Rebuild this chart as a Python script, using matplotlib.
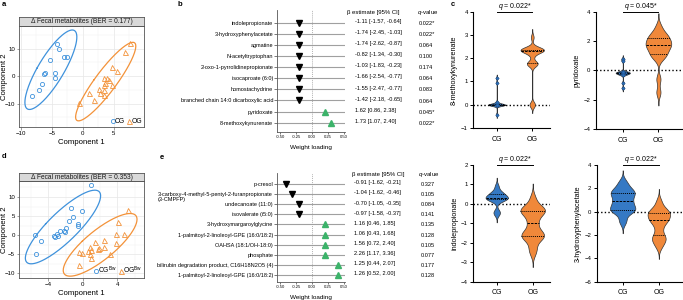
import numpy as np
import matplotlib
matplotlib.use('Agg')
import matplotlib.pyplot as plt
from matplotlib.transforms import blended_transform_factory as btf
from matplotlib.lines import Line2D

plt.rcParams['font.family'] = ['Liberation Sans', 'DejaVu Sans']
plt.rcParams['mathtext.fontset'] = 'custom'
plt.rcParams['mathtext.rm'] = 'Liberation Sans'
plt.rcParams['mathtext.it'] = 'Liberation Sans:italic'

# ---------------- data ----------------
# panel a (component scores)
a_cg_x = [-4.1, -3.8, -5.3, -3.0, -2.5, -6.1, -6.2, -4.5, -4.5, -6.6, -7.0, -8.2]
a_cg_y = [11.5, 9.8, 5.8, 6.8, 6.8, 1.2, 0.7, 1.2, -0.8, -2.9, -5.1, -7.3]
a_og_x = [7.7, 6.8, 4.8, 5.6, 3.5, 3.9, 4.3, 3.6, 4.7, 3.5, 2.6, 3.5, 2.8, 3.5, 1.0, 1.9, -0.6]
a_og_y = [11.9, 8.8, 3.4, 1.8, -0.8, -0.8, -1.5, -2.4, -3.3, -3.3, -4.8, -5.1, -6.3, -6.9, -6.3, -8.7, -9.7]
a_title = 'Δ Fecal metabolites (BER = 0.177)'

# panel d
d_cg_x = [0.97, -0.08, -1.4, -1.1, -1.6, -0.6, -0.5, -2.0, -2.2, -2.1, -2.6, -2.95, -2.9, -3.3, -3.2, -5.5, -4.9, -5.4]
d_cg_y = [13.1, 6.4, 7.0, 4.9, 3.6, 3.0, 2.5, 1.8, 1.2, 0.8, 1.2, 0.3, -0.1, -0.2, -0.5, 0.1, -1.4, -4.9]
d_og_x = [5.2, 4.1, 3.8, 4.8, 3.9, 2.5, 2.5, 1.4, 1.9, 1.8, 0.85, 0.9, 0.8, 0.55, -0.1, -0.4, 0.9, 3.2, -0.4]
d_og_y = [6.7, 3.4, 0.3, 0.3, -2.1, -1.2, -3.0, -1.9, -3.3, -3.7, -3.0, -3.9, -4.8, -4.2, -4.6, -4.4, -5.9, -4.8, -7.7]
d_title = 'Δ Fecal metabolites (BER = 0.353)'

# panel b
b_labels = ['indolepropionate', '3-hydroxyphenylacetate', 'agmatine', 'N-acetyltryptophan',
            '2-oxo-1-pyrrolidinepropionate', 'isocaproate (6:0)', 'homostachydrine',
            'branched chain 14:0 dicarboxylic acid', 'pyridoxate', '8-methoxykynurenate']
b_loading = [-0.21, -0.21, -0.21, -0.21, -0.21, -0.21, -0.21, -0.21, 0.20, 0.30]
b_est = ['-1.11 [-1.57, -0.64]', '-1.74 [-2.45, -1.03]', '-1.74 [-2.62, -0.87]', '-0.82 [-1.34, -0.30]',
         '-1.03 [-1.83, -0.23]', '-1.66 [-2.54, -0.77]', '-1.55 [-2.47, -0.77]', '-1.42 [-2.18, -0.65]',
         '1.62 [0.86, 2.38]', '1.73 [1.07, 2.40]']
b_q = ['0.022*', '0.022*', '0.064', '0.100', '0.174', '0.064', '0.083', '0.064', '0.045*', '0.022*']

# panel e
e_labels = ['p-cresol', '3-carboxy-4-methyl-5-pentyl-2-furanpropionate\n(3-CMPFP)', 'undecanoate (11:0)',
            'isovalerate (i5:0)', '3-hydroxymargaroylglycine', '1-palmitoyl-2-linoleoyl-GPE (16:0/18:2)',
            'OAHSA (18:1/OH-18:0)', 'phosphate', 'bilirubin degradation product, C16H18N2O5 (4)',
            '1-palmitoyl-2-linoleoyl-GPE (16:0/18:2)']
e_loading = [-0.41, -0.31, -0.21, -0.21, 0.20, 0.20, 0.20, 0.20, 0.41, 0.41]
e_est = ['-0.91 [-1.62, -0.21]', '-1.04 [-1.62, -0.46]', '-0.70 [-1.05, -0.35]', '-0.97 [-1.58, -0.37]',
         '1.16 [0.46, 1.85]', '1.06 [0.43, 1.68]', '1.56 [0.72, 2.40]', '2.26 [1.17, 3.36]',
         '1.25 [0.44, 2.07]', '1.26 [0.52, 2.00]']
e_q = ['0.327', '0.105', '0.084', '0.141', '0.135', '0.128', '0.105', '0.077', '0.177', '0.128']

# panel c (violin samples)
groups = ['CG', 'OG']
c_names = ['8-methoxykynurenate', 'pyridoxate', 'indolepropionate', '3-hydroxyphenylacetate']
c_q = ['0.022*', '0.045*', '0.022*', '0.022*']
c_cg = [
    [0, 0, 0, 0, 0, 0, 0, 0, 1.15, 0.95, 0.12, -0.42],
    [0.8, 0.65, -0.85, -1.2, -0.1, -0.15, -0.2, -0.2, -0.25, -0.15, -0.1, -0.3],
    [0.9, 0.6, 0.55, 0.5, 0.35, 0.3, 0.3, 0.28, 0.25, 0.2, -0.4, -0.5],
    [2.5, 2.0, 1.7, 1.6, 1.4, 1.0, 0.8, 0.5, 0.2, 0.1, 0.0, -0.8],
]
c_og = [
    [2.3, 2.32, 2.34, 2.35, 2.36, 2.38, 2.4, 2.3, 2.45, 2.9, 1.72, 1.75, 1.78, 1.8, 0, 0, 2.1],
    [3.0, 2.6, 2.4, 2.3, 2.2, 2.0, 1.9, 1.8, 1.7, 1.6, 1.5, 1.3, 1.1, 1.0, 0.8, -0.6, -1.5],
    [0.3, -0.1, -0.25, -0.3, -0.35, -0.4, -0.5, -0.8, -1.0, -1.3, -1.5, -1.6, -1.65, -1.7, -1.8, -2.2, -2.5],
    [0.9, 0.4, 0.1, 0.0, -0.1, -0.2, -0.4, -0.6, -0.7, -0.8, -1.1, -1.5, -2.0, -2.2, -2.4, -2.6, -3.0],
]
c_yticks = [[-1, 0, 1, 2, 3, 4], [-4, -2, 0, 2, 4], [-4, -3, -2, -1, 0, 1, 2], [-6, -4, -2, 0, 2, 4]]

# ---------------- styling ----------------
BLUE_S = '#3f92dc'
ORANGE_S = '#f39239'
BLUE_V = '#3579c4'
ORANGE_V = '#f0883a'
GREEN = '#3cb36a'

W, H = 683, 300
fig = plt.figure(figsize=(W / 100, H / 100), dpi=100)


def fa(l, t, r, b):
    return [l / W, 1 - b / H, (r - l) / W, (b - t) / H]


def ptxt(x, y, s, **kw):
    fig.text(x / W, 1 - y / H, s, **kw)


def conf_ellipse(x, y, r=2.45, n=200):
    x = np.asarray(x); y = np.asarray(y)
    cov = np.cov(x, y)
    vals, vecs = np.linalg.eigh(cov)
    t = np.linspace(0, 2 * np.pi, n)
    circ = np.vstack([np.cos(t), np.sin(t)])
    pts = vecs @ (np.sqrt(vals)[:, None] * circ) * r
    return pts[0] + x.mean(), pts[1] + y.mean()


def score_panel(rect, srect, cgx, cgy, ogx, ogy, title, xlim, ylim, xt, yt, xminor, yminor, labs):
    ax = fig.add_axes(rect)
    ax.set_xlim(*xlim); ax.set_ylim(*ylim)
    ax.set_xticks(xt); ax.set_yticks(yt)
    ax.set_xticks(xminor, minor=True); ax.set_yticks(yminor, minor=True)
    ax.grid(True, which='major', color='#e6e6e6', lw=0.5)
    ax.grid(True, which='minor', color='#f0f0f0', lw=0.35)
    ax.set_axisbelow(True)
    for s in ax.spines.values():
        s.set_color('#555555'); s.set_linewidth(0.6)
    ax.tick_params(which='major', labelsize=4.4, length=1.8, width=0.4, pad=1, color='#555555')
    ax.tick_params(which='minor', length=0)
    ex, ey = conf_ellipse(cgx, cgy)
    ax.plot(ex, ey, color=BLUE_S, lw=0.9)
    ex, ey = conf_ellipse(ogx, ogy)
    ax.plot(ex, ey, color=ORANGE_S, lw=0.9)
    ax.plot(cgx, cgy, 'o', ms=3.0, mfc='none', mec=BLUE_S, mew=0.6, ls='none')
    ax.plot(ogx, ogy, '^', ms=3.6, mfc='none', mec=ORANGE_S, mew=0.6, ls='none')
    ax.set_xlabel('Component 1', fontsize=5.6, labelpad=2)
    ax.set_ylabel('Component 2', fontsize=5.6, va='center')
    ax.yaxis.set_label_coords(-0.115, 0.5)
    h = [Line2D([], [], marker='o', ls='none', ms=3.0, mfc='none', mec=BLUE_S, mew=0.6),
         Line2D([], [], marker='^', ls='none', ms=3.6, mfc='none', mec=ORANGE_S, mew=0.6)]
    ax.legend(h, labs, loc='lower right', ncol=2, frameon=False, fontsize=4.9,
              handlelength=0.6, handletextpad=0.05, columnspacing=0.3, borderaxespad=0.15,
              borderpad=0.1)
    sx = fig.add_axes(srect)
    sx.set_xticks([]); sx.set_yticks([])
    sx.set_facecolor('#d9d9d9')
    for s in sx.spines.values():
        s.set_color('#555555'); s.set_linewidth(0.6)
    sx.text(0.5, 0.45, title, ha='center', va='center', fontsize=4.8, color='#1a1a1a')
    return ax


score_panel(fa(19, 26, 144, 127), fa(19, 17, 144, 26), a_cg_x, a_cg_y, a_og_x, a_og_y, a_title,
            (-10.3, 9.9), (-18.5, 18.2), [-10, -5, 0, 5], [-10, 0, 10],
            [-7.5, -2.5, 2.5, 7.5], [-15, -5, 5, 15], ['CG', 'OG'])
score_panel(fa(19, 181, 144, 278), fa(19, 172.5, 144, 181), d_cg_x, d_cg_y, d_og_x, d_og_y, d_title,
            (-7.4, 7.1), (-11.2, 14.2), [-4, 0, 4], [-10, -5, 0, 5, 10],
            [-6, -2, 2, 6], [-7.5, -2.5, 2.5, 7.5, 12.5],
            [r'CG$^{\mathrm{Bw}}$', r'OG$^{\mathrm{Bw}}$'])


def loading_panel(rect, labels, loads, est, qv, ylim, hdr_y, est_x, q_x, hdr_est_x, hdr_q_x, special=None):
    ax = fig.add_axes(rect)
    n = len(labels)
    rows = np.arange(n)
    ax.set_xlim(-0.55, 0.52)
    ax.set_ylim(*ylim)
    ax.hlines(rows, -0.55, 0.52, color='#a0a0a0', lw=0.8, zorder=1)
    ax.axvline(0, color='#9a9a9a', ls=(0, (1, 1.3)), lw=0.6, zorder=1)
    for r, v in zip(rows, loads):
        if v < 0:
            ax.plot(v, r, 'v', ms=4.2, color='black', zorder=3)
        else:
            ax.plot(v, r, '^', ms=4.2, color=GREEN, zorder=3)
    ticklabels = ['' if special is not None and i == special else l for i, l in enumerate(labels)]
    ax.set_yticks(rows, ticklabels)
    ax.set_xticks([-0.5, -0.25, 0, 0.25, 0.5], ['-0.50', '-0.25', '0.00', '0.25', '0.50'])
    ax.tick_params(axis='y', labelsize=4.0, length=2.0, width=0.5, pad=0.8, color='#444444')
    ax.tick_params(axis='x', labelsize=3.0, length=1.5, width=0.5, pad=1, color='#444444')
    for s in ['top', 'right']:
        ax.spines[s].set_visible(False)
    for s in ['left', 'bottom']:
        ax.spines[s].set_color('#555555'); ax.spines[s].set_linewidth(0.6)
    ax.set_xlabel('Weight loading', fontsize=4.6, labelpad=4)
    if special is not None:
        ax.annotate(labels[special], xy=(0, special), xycoords=btf(ax.transAxes, ax.transData),
                    xytext=(-3.0, -1.8), textcoords='offset points', ha='right', va='center',
                    multialignment='left', fontsize=4.0, linespacing=0.95)
    tr = btf(fig.transFigure, ax.transData)
    ax.text(hdr_est_x / W, hdr_y, 'β estimate [95% CI]', transform=tr, fontsize=4.3, va='center')
    ax.text(hdr_q_x / W, hdr_y, r'$q$-value', transform=tr, fontsize=4.3, va='center')
    for r, e, q in zip(rows, est, qv):
        ax.text(est_x / W, r - 0.12, e, transform=tr, fontsize=4.1, va='center')
        ax.text(q_x / W, r + 0.05, q, transform=tr, fontsize=4.1, va='center')
    return ax


loading_panel(fa(277, 10, 345, 131.7), b_labels, b_loading, b_est, b_q, (9.81, -1.14), -0.9,
              355, 419, 347, 417)
loading_panel(fa(277, 173.3, 345, 281.7), e_labels, e_loading, e_est, e_q, (9.66, -1.06), -0.99,
              354, 420.5, 352, 418, special=1)


def violin(ax, pos, data, bw, hw, color):
    data = np.asarray(data, dtype=float)
    g = np.linspace(data.min() - 3 * bw, data.max() + 3 * bw, 400)
    d = np.exp(-0.5 * ((g[:, None] - data[None, :]) / bw) ** 2).sum(1)
    w = d / d.max() * hw
    ax.fill_betweenx(g, pos - w, pos + w, facecolor=color, edgecolor='#333333', lw=0.5, zorder=2)
    q1, med, q3 = np.percentile(data, [25, 50, 75])
    for val, ls in ((q1, (0, (1, 1))), (med, (0, (2.5, 1.2))), (q3, (0, (1, 1)))):
        wv = np.interp(val, g, w)
        ax.plot([pos - wv, pos + wv], [val, val], color='black', ls=ls, lw=0.7, zorder=3)


c_rects = [fa(473.3, 11.7, 550, 128), fa(595.7, 11.7, 683, 129),
           fa(473.3, 165, 550, 281.7), fa(596.7, 165, 683, 281.7)]
c_xlims = [(-0.66, 1.5), (-0.76, 1.69), (-0.65, 1.48), (-0.72, 1.67)]
c_bw = [(0.05, 0.12), (0.08, 0.3), (0.15, 0.25), (0.35, 0.35)]
c_hw = [(0.24, 0.33), (0.2, 0.36), (0.31, 0.34), (0.35, 0.31)]

for i in range(4):
    ax = fig.add_axes(c_rects[i])
    yt = c_yticks[i]
    ax.set_ylim(yt[0], yt[-1])
    ax.set_xlim(*c_xlims[i])
    ax.axhline(0, color='black', ls=(0, (1, 1.6)), lw=1.0, zorder=1)
    violin(ax, 0, c_cg[i], c_bw[i][0], c_hw[i][0], BLUE_V)
    violin(ax, 1, c_og[i], c_bw[i][1], c_hw[i][1], ORANGE_V)
    if i < 2:
        ax.plot(np.zeros(len(c_cg[i])), c_cg[i], 'D', ms=1.8, color='#2d6fb8', mec='#1d4f8a',
                mew=0.3, ls='none', zorder=4)
    ax.set_yticks(yt)
    ax.set_xticks([0, 1], groups)
    for s in ['top', 'right']:
        ax.spines[s].set_visible(False)
    for s in ['left', 'bottom']:
        ax.spines[s].set_linewidth(0.8)
    ax.tick_params(axis='y', labelsize=4.3, length=2.5, width=0.7, pad=1.5)
    ax.tick_params(axis='x', labelsize=5.0, length=2.5, width=0.7, pad=3)
    ax.set_ylabel(c_names[i], fontsize=5.2, labelpad=2)
    tb = btf(ax.transData, ax.transAxes)
    ax.annotate('', xy=(0, 1), xycoords=tb)
    ax.plot([0, 1], [1.0, 1.0], color='black', lw=0.7, transform=tb, clip_on=False)
    ax.annotate(r'$q$ = ' + c_q[i], xy=(0.5, 1.0), xycoords=tb, xytext=(0, 4.0),
                textcoords='offset points', ha='center', va='center', fontsize=5.0)

# panel letters
for lab, x, y in [('a', 2, 5), ('b', 178, 5), ('c', 451, 5), ('d', 2, 157), ('e', 160, 158)]:
    ptxt(x, y, lab, fontsize=5.5, fontweight='bold', va='center', ha='left')

fig.savefig('out.png', dpi=100)
